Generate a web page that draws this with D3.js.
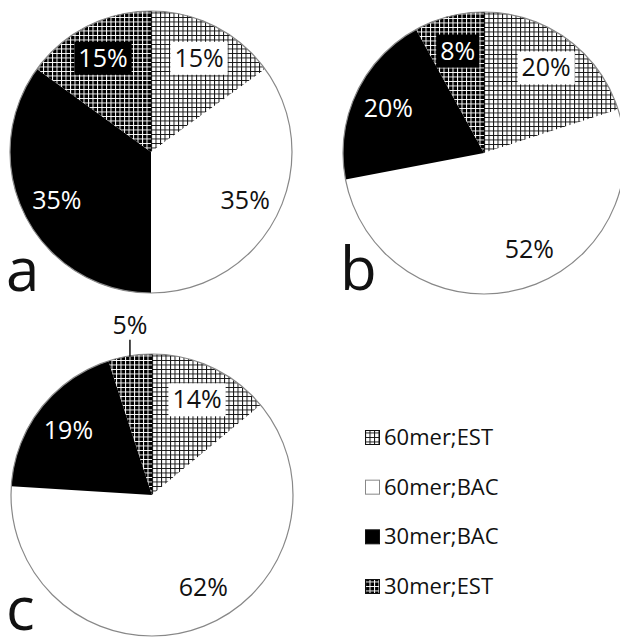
<!DOCTYPE html>
<html>
<head>
<meta charset="utf-8">
<script src="https://cdn.jsdelivr.net/npm/d3@7"></script>
<style>
  body { margin: 0; background: #fff; }
  svg { display: block; }
  text { font-family: "Open Sans", "Noto Sans", sans-serif; }
</style>
</head>
<body>
<div id="chart"></div>
<script>
/* DATA */
const categories = ["60mer;EST", "60mer;BAC", "30mer;BAC", "30mer;EST"];
const valuesA = [15, 35, 35, 15];
const valuesB = [20, 52, 20, 8];
const valuesC = [14, 62, 19, 5];

/* LAYOUT */
const width = 620, height = 638;
const R = 141;
// shift = label angle nudge (degrees) for the big white slice
const panels = [
  { name: "a", values: valuesA, cx: 151, cy: 152, lx: 6, ly: 291, shift: 0 },
  { name: "b", values: valuesB, cx: 484, cy: 153, lx: 340, ly: 290, shift: -11 },
  { name: "c", values: valuesC, cx: 152, cy: 495, lx: 6, ly: 630, shift: -11 }
];

const svg = d3.select("#chart").append("svg")
  .attr("width", width)
  .attr("height", height);

// PATTERNS
const defs = svg.append("defs");
function gridPattern (id, bg, fg, step) {
  const p = defs.append("pattern")
    .attr("id", id)
    .attr("patternUnits", "userSpaceOnUse")
    .attr("width", step)
    .attr("height", step);
  p.append("rect").attr("width", step).attr("height", step).attr("fill", bg);
  p.append("path")
    .attr("d", `M0,0.5H${step}M0.5,0V${step}`)
    .attr("stroke", fg)
    .attr("stroke-width", 1);
}
gridPattern("est60", "#fff", "#111", 4.5);
gridPattern("est30", "#000", "#fff", 4.5);

const fills = d3.scaleOrdinal()
  .domain(categories)
  .range(["url(#est60)", "#fff", "#000", "url(#est30)"]);
const textColor = d3.scaleOrdinal()
  .domain(categories)
  .range(["#111", "#111", "#fff", "#fff"]);
const boxColor = d3.scaleOrdinal()
  .domain(categories)
  .range(["#fff", "none", "none", "#000"]);

const pie = d3.pie().sort(null).value(d => d.value);
const arc = d3.arc().innerRadius(0).outerRadius(R);
const labelArc = d3.arc().innerRadius(R * 0.75).outerRadius(R * 0.75);
const edgeArc = d3.arc().innerRadius(R).outerRadius(R);

panels.forEach(p => {
  const rows = categories.map((c, i) => ({ cat: c, value: p.values[i] }));
  const arcs = pie(rows);

  const g = svg.append("g")
    .attr("transform", `translate(${p.cx},${p.cy})`);

  g.selectAll("path.slice")
    .data(arcs)
    .join("path")
    .attr("class", "slice")
    .attr("d", arc)
    .attr("fill", d => fills(d.data.cat));

  g.append("circle")
    .attr("r", R)
    .attr("fill", "none")
    .attr("stroke", "#888")
    .attr("stroke-width", 1.2);

  // LABELS
  arcs.forEach(d => {
    const outside = d.data.value < 6;
    const txt = d.data.value + "%";
    if (outside) {
      const [ex, ey] = edgeArc.centroid(d);
      g.append("line")
        .attr("x1", ex).attr("x2", ex)
        .attr("y1", ey + 1).attr("y2", ey - 16)
        .attr("stroke", "#111").attr("stroke-width", 1.5);
      g.append("text")
        .attr("x", ex)
        .attr("y", ey - 22)
        .attr("text-anchor", "middle")
        .attr("font-size", 25)
        .attr("fill", "#111")
        .text(txt);
      return;
    }
    const off = d.data.cat === "60mer;BAC" ? p.shift * Math.PI / 180 : 0;
    const [x, y] = labelArc.centroid({ startAngle: d.startAngle + off, endAngle: d.endAngle + off });
    const lg = g.append("g");
    const t = lg.append("text")
      .attr("x", x)
      .attr("y", y)
      .attr("dy", "0.36em")
      .attr("text-anchor", "middle")
      .attr("font-size", 25)
      .attr("fill", textColor(d.data.cat))
      .text(txt);
    if (boxColor(d.data.cat) !== "none") {
      const bb = t.node().getBBox();
      lg.insert("rect", "text")
        .attr("x", bb.x - 4)
        .attr("y", y - 16)
        .attr("width", bb.width + 8)
        .attr("height", 33)
        .attr("fill", boxColor(d.data.cat));
    }
  });

  svg.append("text")
    .attr("x", p.lx)
    .attr("y", p.ly)
    .attr("font-family", "Liberation Sans, Arial, sans-serif")
    .attr("font-size", 60)
    .attr("fill", "#111")
    .text(p.name);
});

// LEGEND
const legendY = d3.scalePoint()
  .domain(categories)
  .range([437, 586]);

const legend = svg.append("g").attr("class", "legend");
const items = legend.selectAll("g")
  .data(categories)
  .join("g")
  .attr("transform", d => `translate(365,${legendY(d)})`);

items.append("rect")
  .attr("x", 0.5)
  .attr("y", -6.5)
  .attr("width", 14)
  .attr("height", 14)
  .attr("fill", d => fills(d))
  .attr("stroke", (d, i) => i === 1 ? "#888" : "#111")
  .attr("stroke-width", 1);

items.append("text")
  .attr("x", 19)
  .attr("dy", "0.36em")
  .attr("font-size", 22)
  .attr("fill", "#111")
  .text(d => d);
</script>
</body>
</html>
